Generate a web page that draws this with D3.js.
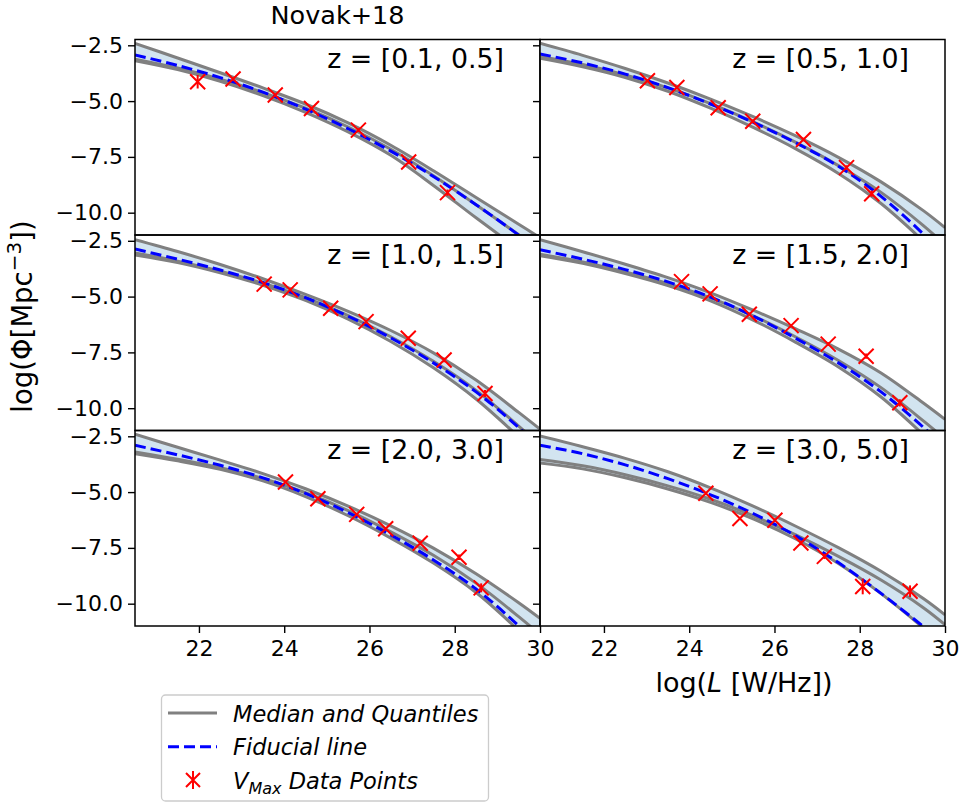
<!DOCTYPE html>
<html>
<head>
<meta charset="utf-8">
<script src="https://cdn.jsdelivr.net/npm/d3@7"></script>
<style>
  html, body { margin: 0; padding: 0; background: #ffffff; }
  svg { display: block; font-family: "DejaVu Sans", sans-serif; }
</style>
</head>
<body>
<svg id="chart" width="964" height="806"></svg>
<script>
// ---------------- DATA ----------------
const panelLabels = ["z = [0.1, 0.5]", "z = [0.5, 1.0]", "z = [1.0, 1.5]",
                     "z = [1.5, 2.0]", "z = [2.0, 3.0]", "z = [3.0, 5.0]"];
const xTicks = [22, 24, 26, 28, 30];
const yTicks = [-2.5, -5.0, -7.5, -10.0];
const xDomain = [20.5, 30];
const yDomain = [-11.0, -2.24];

// log L grid at which the curves were read
const logL = [20.5, 21.5, 22.5, 23.5, 24.5, 25.5, 26.5, 27.5, 28.5, 29.5, 30];

// upper quantile, per panel
const upperQ = [
  [-2.41, -3.07, -3.73, -4.41, -5.13, -5.98, -6.98, -8.12, -9.32, -10.52, -11.12],
  [-2.41, -2.95, -3.54, -4.19, -4.91, -5.70, -6.56, -7.52, -8.62, -9.92, -10.67],
  [-2.45, -2.98, -3.56, -4.20, -4.90, -5.66, -6.52, -7.52, -8.74, -10.19, -10.94],
  [-2.45, -2.99, -3.55, -4.15, -4.83, -5.61, -6.45, -7.35, -8.42, -9.78, -10.50],
  [-2.41, -2.99, -3.57, -4.17, -4.85, -5.63, -6.51, -7.51, -8.66, -9.96, -10.66],
  [-2.49, -2.97, -3.49, -4.09, -4.81, -5.63, -6.53, -7.49, -8.55, -9.78, -10.50]
];
// median, per panel
const medianQ = [
  [-3.12, -3.52, -4.02, -4.62, -5.32, -6.16, -7.16, -8.34, -9.64, -10.99, -11.69],
  [-3.00, -3.36, -3.83, -4.41, -5.11, -5.93, -6.85, -7.89, -9.09, -10.59, -11.44],
  [-3.05, -3.41, -3.86, -4.40, -5.05, -5.85, -6.80, -7.90, -9.20, -10.80, -11.65],
  [-3.10, -3.45, -3.90, -4.42, -5.06, -5.86, -6.81, -7.86, -9.08, -10.58, -11.38],
  [-3.20, -3.53, -3.91, -4.39, -5.03, -5.83, -6.78, -7.83, -9.08, -10.58, -11.38],
  [-3.54, -3.82, -4.22, -4.72, -5.32, -6.06, -6.92, -7.88, -8.94, -10.19, -10.94]
];
// lower quantile, per panel
const lowerQ = [
  [-3.19, -3.59, -4.11, -4.75, -5.50, -6.38, -7.43, -8.78, -10.23, -11.63, -12.30],
  [-3.08, -3.46, -3.94, -4.56, -5.32, -6.18, -7.14, -8.24, -9.59, -11.29, -12.24],
  [-3.13, -3.47, -3.93, -4.49, -5.17, -6.01, -7.01, -8.19, -9.59, -11.29, -12.19],
  [-3.17, -3.51, -3.97, -4.51, -5.19, -6.05, -7.05, -8.15, -9.50, -11.20, -12.10],
  [-3.28, -3.60, -3.98, -4.50, -5.20, -6.06, -7.06, -8.18, -9.50, -11.20, -12.15],
  [-3.70, -3.96, -4.36, -4.86, -5.46, -6.20, -7.10, -8.20, -9.55, -11.10, -11.95]
];
// fiducial line, per panel
const fiducial = [
  [-2.93, -3.40, -3.95, -4.60, -5.36, -6.24, -7.24, -8.38, -9.64, -11.00, -11.72],
  [-2.89, -3.29, -3.79, -4.40, -5.13, -5.95, -6.87, -7.92, -9.27, -10.97, -11.95],
  [-2.87, -3.32, -3.81, -4.37, -5.05, -5.88, -6.85, -7.97, -9.27, -10.87, -11.82],
  [-2.90, -3.32, -3.79, -4.34, -5.02, -5.87, -6.87, -7.97, -9.27, -10.87, -11.82],
  [-2.90, -3.33, -3.80, -4.36, -5.06, -5.92, -6.92, -8.04, -9.34, -10.99, -11.94],
  [-2.90, -3.28, -3.78, -4.40, -5.12, -5.96, -6.96, -8.16, -9.54, -11.04, -11.84]
];
// V_max data points, per panel
const vmaxL = [
  [21.97, 22.80, 23.79, 24.64, 25.74, 26.92, 27.83],
  [23.02, 23.71, 24.68, 25.49, 26.68, 27.69, 28.28],
  [23.53, 24.14, 25.09, 25.92, 26.91, 27.75, 28.71],
  [23.82, 24.49, 25.41, 26.39, 27.26, 28.15, 28.94],
  [24.03, 24.79, 25.70, 26.38, 27.19, 28.10, 28.62],
  [24.39, 25.19, 26.01, 26.62, 27.17, 28.07, 29.18]
];
const vmaxPhi = [
  [-4.13, -4.01, -4.73, -5.33, -6.30, -7.73, -9.10],
  [-4.09, -4.39, -5.30, -5.90, -6.72, -7.98, -9.15],
  [-4.44, -4.70, -5.52, -6.12, -6.87, -7.84, -9.34],
  [-4.33, -4.88, -5.79, -6.30, -7.13, -7.67, -9.76],
  [-4.55, -5.30, -6.00, -6.64, -7.29, -7.92, -9.29],
  [-5.05, -6.18, -6.26, -7.28, -7.88, -9.23, -9.44]
];
const vmaxErr = [
  [0.30, 0.06, 0.06, 0.06, 0.08, 0.10, 0.14],
  [0.05, 0.05, 0.06, 0.07, 0.08, 0.10, 0.14],
  [0.05, 0.05, 0.06, 0.07, 0.08, 0.10, 0.16],
  [0.05, 0.05, 0.06, 0.07, 0.08, 0.12, 0.16],
  [0.05, 0.05, 0.06, 0.07, 0.09, 0.12, 0.20],
  [0.06, 0.07, 0.08, 0.10, 0.12, 0.35, 0.26]
];
const legendLabels = ["Median and Quantiles", "Fiducial line", "Data Points"];
const titleText = "Novak+18";

// ---------------- LAYOUT ----------------
const colX = [135, 540];
const rowY = [39.5, 235, 430.5];
const pw = 405, ph = 195.5;
const grayC = "#808080", fillC = "#d2e4f0", blueC = "#0000ff", redC = "#ff0000";

const svg = d3.select("#chart");
svg.append("rect").attr("width", 964).attr("height", 806).attr("fill", "#fff");

const x = d3.scaleLinear().domain(xDomain).range([0, pw]);
const y = d3.scaleLinear().domain(yDomain).range([ph, 0]);

const curve = d3.curveCatmullRom.alpha(0.5);
const lineGen = d3.line().x((d) => x(d[0])).y((d) => y(d[1])).curve(curve);
const areaGen = d3.area().x((d) => x(d[0])).y0((d) => y(d[2])).y1((d) => y(d[1])).curve(curve);

const defs = svg.append("defs");
defs.append("clipPath").attr("id", "pclip").append("rect")
  .attr("x", 0).attr("y", 0).attr("width", pw).attr("height", ph);

panelLabels.forEach((lab, i) => {
  const r = Math.floor(i / 2), c = i % 2;
  const g = svg.append("g").attr("transform", `translate(${colX[c]},${rowY[r]})`);
  const plot = g.append("g").attr("clip-path", "url(#pclip)");

  const band = logL.map((v, k) => [v, upperQ[i][k], lowerQ[i][k]]);
  plot.append("path").datum(band).attr("d", areaGen).attr("fill", fillC).attr("stroke", "none");

  [upperQ[i], lowerQ[i], medianQ[i]].forEach((arr) => {
    plot.append("path").datum(logL.map((v, k) => [v, arr[k]]))
      .attr("d", lineGen).attr("fill", "none").attr("stroke", grayC)
      .attr("stroke-width", 3).attr("stroke-linejoin", "round");
  });

  plot.append("path").datum(logL.map((v, k) => [v, fiducial[i][k]]))
    .attr("d", lineGen).attr("fill", "none").attr("stroke", blueC)
    .attr("stroke-width", 3).attr("stroke-dasharray", "11,5");

  const pts = vmaxL[i].map((v, k) => ({ x: v, y: vmaxPhi[i][k], e: vmaxErr[i][k] }));
  const pg = plot.selectAll("g.pt").data(pts).enter().append("g")
    .attr("transform", (d) => `translate(${x(d.x)},0)`);
  pg.append("line").attr("x1", 0).attr("x2", 0)
    .attr("y1", (d) => y(d.y - d.e)).attr("y2", (d) => y(d.y + d.e))
    .attr("stroke", redC).attr("stroke-width", 2);
  pg.append("path").attr("d", (d) => `M-7.5,${y(d.y) - 7.5}L7.5,${y(d.y) + 7.5}M-7.5,${y(d.y) + 7.5}L7.5,${y(d.y) - 7.5}`)
    .attr("stroke", redC).attr("stroke-width", 2).attr("fill", "none");

  // spines
  g.append("rect").attr("x", 0).attr("y", 0).attr("width", pw).attr("height", ph)
    .attr("fill", "none").attr("stroke", "#000").attr("stroke-width", 1.5);

  // y axis
  const ya = d3.axisLeft(y).tickValues(yTicks).tickSize(7).tickPadding(5)
    .tickFormat(c === 0 ? d3.format(".1f") : () => "");
  const yg = g.append("g").call(ya);
  yg.select(".domain").remove();
  yg.selectAll(".tick line").attr("stroke-width", 1.4);
  yg.selectAll("text").attr("font-size", 22).attr("font-family", "DejaVu Sans").attr("fill", "#000");

  if (r === 2) {
    const xa = d3.axisBottom(x).tickValues(xTicks).tickSize(7).tickPadding(7).tickFormat(d3.format("d"));
    const xg = g.append("g").attr("transform", `translate(0,${ph})`).call(xa);
    xg.select(".domain").remove();
    xg.selectAll(".tick line").attr("stroke-width", 1.4);
    xg.selectAll("text").attr("font-size", 22).attr("font-family", "DejaVu Sans").attr("fill", "#000");
  }

  g.append("text").attr("x", pw - 36).attr("y", 28.5).attr("text-anchor", "end")
    .attr("font-size", 26.8).attr("fill", "#000").text(lab);
});

// title
svg.append("text").attr("x", 337.5).attr("y", 23.5).attr("text-anchor", "middle")
  .attr("font-size", 25.5).attr("fill", "#000").text(titleText);

// x label
const xl = svg.append("text").attr("x", 744).attr("y", 691.5).attr("text-anchor", "middle")
  .attr("font-size", 27).attr("fill", "#000");
xl.append("tspan").text("log(");
xl.append("tspan").attr("font-style", "italic").text("L");
xl.append("tspan").text(" [W/Hz])");

// y label
const yl = svg.append("text").attr("transform", "translate(31.5,316.5) rotate(-90)")
  .attr("text-anchor", "middle").attr("font-size", 27.5).attr("fill", "#000");
yl.append("tspan").text("log(Φ[Mpc");
yl.append("tspan").attr("font-size", 20).attr("dy", -11).text("−3");
yl.append("tspan").attr("dy", 11).text("])");

// legend
const lg = svg.append("g");
lg.append("rect").attr("x", 161.5).attr("y", 695).attr("width", 327).attr("height", 106)
  .attr("rx", 4).attr("fill", "#fff").attr("stroke", "#cccccc").attr("stroke-width", 1.3);
const rowsY = [713, 746.7, 780];
lg.append("line").attr("x1", 168).attr("x2", 217).attr("y1", rowsY[0]).attr("y2", rowsY[0])
  .attr("stroke", grayC).attr("stroke-width", 3);
lg.append("line").attr("x1", 168).attr("x2", 217).attr("y1", rowsY[1]).attr("y2", rowsY[1])
  .attr("stroke", blueC).attr("stroke-width", 3).attr("stroke-dasharray", "11,5");
lg.append("line").attr("x1", 193).attr("x2", 193).attr("y1", rowsY[2] - 9).attr("y2", rowsY[2] + 9)
  .attr("stroke", redC).attr("stroke-width", 2);
lg.append("path").attr("d", `M186,${rowsY[2] - 7}L200,${rowsY[2] + 7}M186,${rowsY[2] + 7}L200,${rowsY[2] - 7}`)
  .attr("stroke", redC).attr("stroke-width", 2);
[legendLabels[0], legendLabels[1]].forEach((t, k) => {
  lg.append("text").attr("x", 233).attr("y", rowsY[k] + 8.5).attr("font-size", 22.5)
    .attr("font-style", "italic").attr("fill", "#000").text(t);
});
const vt = lg.append("text").attr("x", 233).attr("y", rowsY[2] + 8.5).attr("font-size", 22.5)
  .attr("font-style", "italic").attr("fill", "#000");
vt.append("tspan").text("V");
vt.append("tspan").attr("font-size", 16).attr("dy", 5).text("Max");
vt.append("tspan").attr("dy", -5).text(" " + legendLabels[2]);
</script>
</body>
</html>
